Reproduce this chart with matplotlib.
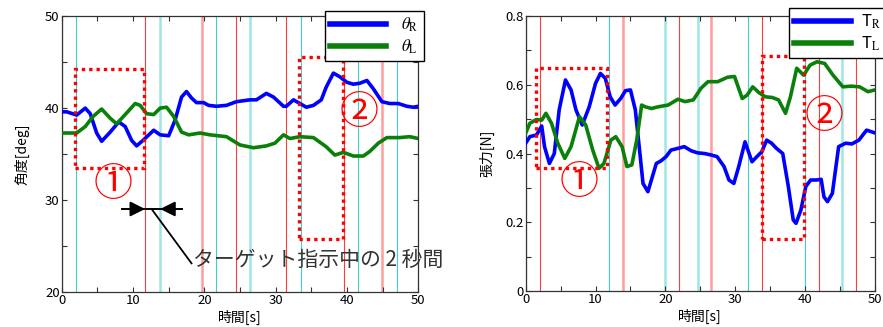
import matplotlib.pyplot as plt
from matplotlib.patches import Rectangle
from matplotlib.ticker import MultipleLocator, FuncFormatter

plt.rcParams['font.family'] = ['Noto Sans CJK JP', 'DejaVu Sans']
plt.rcParams['mathtext.fontset'] = 'stix'

# 左図: 角度 [deg]
t_theta_r = [0, 0.7, 2.1, 3.3, 4.0, 4.9, 5.6, 6.8, 8.0, 8.9, 9.8, 10.5, 11.4, 12.9, 13.8, 15.0,
             15.9, 16.8, 17.5, 18.2, 18.9, 19.9, 20.6, 21.7, 23.1, 24.5, 26.4, 27.3, 28.7, 29.7,
             31.1, 31.5, 32.5, 33.4, 34.3, 35.3, 36.4, 37.1, 38.1, 39.0, 40.0, 40.9, 41.8, 42.8,
             43.7, 44.9, 46.0, 47.2, 48.4, 49.3, 50]
theta_r = [39.6, 39.6, 39.25, 40.0, 39.4, 37.3, 36.4, 37.4, 38.5, 38.0, 36.5, 35.9, 36.5, 37.6,
           37.1, 37.0, 38.7, 41.2, 41.8, 41.1, 40.6, 40.6, 40.3, 40.2, 40.3, 40.7, 40.9, 40.9,
           41.6, 41.2, 40.2, 40.2, 40.9, 40.5, 40.1, 40.3, 40.9, 42.3, 43.8, 43.4, 42.8, 42.6,
           42.7, 43.0, 42.1, 40.7, 40.5, 40.5, 40.2, 40.1, 40.2]
t_theta_l = [0, 2.1, 3.3, 4.4, 5.6, 6.8, 7.7, 8.9, 10.3, 11.0, 11.9, 12.9, 13.8, 14.7, 15.7,
             16.8, 17.8, 19.4, 20.8, 23.1, 25.0, 26.9, 28.7, 29.9, 31.1, 32.0, 33.4, 35.3, 37.1,
             38.3, 39.5, 40.9, 42.3, 43.2, 44.4, 45.6, 47.4, 48.8, 50]
theta_l = [37.3, 37.3, 38.0, 39.1, 39.9, 38.9, 38.3, 39.3, 40.5, 40.3, 39.4, 39.3, 40.0, 40.1,
           39.1, 37.4, 37.1, 37.3, 37.1, 36.9, 36.0, 35.7, 35.9, 36.2, 37.1, 36.7, 36.9, 36.8,
           35.8, 34.9, 35.2, 34.8, 34.8, 35.3, 36.2, 36.8, 36.8, 36.9, 36.7]

# 右図: 張力 [N]
t_tension_r = [0, 0.6, 1.55, 2.3, 2.7, 3.4, 4.1, 4.8, 5.7, 6.5, 7.2, 8.1, 9.1, 10.0, 10.7, 11.4,
               12.1, 12.8, 13.6, 14.3, 15.0, 15.7, 16.4, 16.8, 17.5, 18.0, 18.7, 19.4, 20.1,
               20.8, 21.8, 22.7, 23.7, 24.6, 25.6, 26.5, 27.4, 28.4, 29.1, 29.8, 30.5, 31.4,
               32.4, 33.1, 33.8, 34.5, 35.2, 35.9, 36.8, 37.6, 38.3, 38.7, 39.4, 40.1, 40.8,
               41.6, 42.3, 42.7, 43.2, 43.9, 44.8, 45.8, 46.7, 47.7, 48.8, 50]
tension_r = [0.430, 0.449, 0.454, 0.480, 0.420, 0.371, 0.400, 0.527, 0.614, 0.585, 0.527, 0.483,
             0.536, 0.604, 0.633, 0.619, 0.565, 0.541, 0.560, 0.583, 0.585, 0.527, 0.391, 0.313,
             0.289, 0.323, 0.371, 0.379, 0.391, 0.410, 0.415, 0.420, 0.408, 0.402, 0.400, 0.396,
             0.391, 0.362, 0.323, 0.313, 0.362, 0.434, 0.376, 0.391, 0.405, 0.439, 0.430, 0.415,
             0.400, 0.304, 0.207, 0.197, 0.236, 0.304, 0.323, 0.323, 0.325, 0.274, 0.260, 0.284,
             0.420, 0.430, 0.428, 0.439, 0.468, 0.460]
t_tension_l = [0, 0.6, 1.55, 2.3, 2.9, 3.7, 4.6, 5.6, 6.5, 7.7, 8.6, 9.6, 10.5, 11.2, 12.2, 12.9,
               13.8, 14.5, 15.2, 15.9, 16.6, 17.1, 18.0, 19.0, 20.4, 21.8, 22.8, 24.0, 25.1,
               26.1, 27.5, 28.9, 29.9, 31.0, 31.7, 32.5, 33.4, 34.3, 35.3, 36.2, 37.2, 37.9,
               38.8, 39.8, 40.7, 41.7, 42.8, 44.0, 45.4, 46.6, 47.8, 49.0, 50]
tension_l = [0.459, 0.488, 0.499, 0.497, 0.517, 0.488, 0.430, 0.386, 0.420, 0.507, 0.483, 0.410,
             0.357, 0.371, 0.439, 0.449, 0.420, 0.362, 0.367, 0.439, 0.541, 0.536, 0.531, 0.536,
             0.541, 0.558, 0.551, 0.556, 0.590, 0.609, 0.609, 0.622, 0.624, 0.560, 0.570, 0.594,
             0.577, 0.565, 0.563, 0.556, 0.517, 0.565, 0.648, 0.628, 0.657, 0.667, 0.662, 0.628,
             0.594, 0.596, 0.594, 0.580, 0.585]

# 縦線（ターゲット指示の区切り）
red_left = [0, 11.7, 24.4, 31.5, 39.6]
red_left_light = [19.7, 44.9]
cyan_left = [2.0, 21.7, 33.5, 41.6, 47.0]
cyan_left_light = [13.8, 26.4]
red_right = [2.0, 21.9, 33.8, 42.0, 47.3]
red_right_light = [13.9, 26.6]
cyan_right = [0, 11.9, 31.8, 40.0]
cyan_right_light = [19.9, 24.6, 45.3]

RED = '#ff3c3c'
CYAN = '#3fcfcf'
BLUE = '#0000ff'
GREEN = '#0a800a'
SPINE = '#333333'


def vlines(ax, reds, reds_light, cyans, cyans_light):
    for v in reds:
        ax.axvline(v, color=RED, lw=0.8, zorder=1)
    for v in reds_light:
        ax.axvline(v, color=RED, lw=1.8, alpha=0.5, zorder=1)
    for v in cyans:
        ax.axvline(v, color=CYAN, lw=0.8, zorder=1)
    for v in cyans_light:
        ax.axvline(v, color=CYAN, lw=1.8, alpha=0.5, zorder=1)


def dotted_box(ax, x0, x1, y0, y1):
    r = Rectangle((x0, y0), x1 - x0, y1 - y0, fill=False, edgecolor='red',
                  lw=2.4, linestyle=(0, (1, 1.2)), zorder=4, clip_on=False)
    ax.add_patch(r)


def circled(ax, x, y, s):
    ax.text(x, y, s, color='red', fontsize=28,
            ha='center', va='center', zorder=5)


def style(ax):
    for s in ax.spines.values():
        s.set_color(SPINE)
        s.set_linewidth(0.9)
    ax.tick_params(which='both', direction='in', top=True, right=True,
                   length=3.5, width=0.8, color=SPINE, labelsize=9.5, pad=1.5)
    ax.xaxis.set_major_locator(MultipleLocator(10))
    ax.xaxis.set_minor_locator(MultipleLocator(5))
    ax.set_xlim(0, 50)
    ax.set_xlabel('時間[s]', fontsize=10, labelpad=2)


fig = plt.figure(figsize=(8.83, 3.27), dpi=100)

# ---- 左: 角度 ----
ax1 = fig.add_axes([0.0699, 0.106, 0.4038, 0.845])
vlines(ax1, red_left, red_left_light, cyan_left, cyan_left_light)
ax1.plot(t_theta_r, theta_r, color=BLUE, lw=2.6, label=r'$\theta_{\mathrm{R}}$', zorder=3)
ax1.plot(t_theta_l, theta_l, color=GREEN, lw=2.6, label=r'$\theta_{\mathrm{L}}$', zorder=3)
style(ax1)
ax1.set_ylim(20, 50)
ax1.yaxis.set_major_locator(MultipleLocator(10))
ax1.yaxis.set_minor_locator(MultipleLocator(5))
ax1.set_ylabel('角度[deg]', fontsize=10, labelpad=11)
dotted_box(ax1, 1.9, 11.6, 33.5, 44.3)
dotted_box(ax1, 33.3, 39.4, 25.8, 45.6)
circled(ax1, 7.2, 31.6, '①')
circled(ax1, 41.7, 39.5, '②')
leg1 = ax1.legend(loc='upper right', bbox_to_anchor=(1.016, 1.018), fancybox=False,
                  edgecolor='black', framealpha=1, fontsize=12, handlelength=3.4,
                  borderpad=0.3, labelspacing=0.2, handletextpad=0.9, borderaxespad=0)
leg1.get_frame().set_linewidth(1.0)
for h in leg1.get_lines():
    h.set_linewidth(4)

# 2 秒間の矢印
ya = 29.05
ax1.plot([8.4, 16.8], [ya, ya], color='black', lw=1.4, zorder=5)
ax1.annotate('', xy=(11.7, ya), xytext=(8.6, ya),
             arrowprops=dict(arrowstyle='-|>,head_length=0.9,head_width=0.45',
                             color='black', lw=1.4, shrinkA=0, shrinkB=0), zorder=5)
ax1.annotate('', xy=(13.8, ya), xytext=(16.6, ya),
             arrowprops=dict(arrowstyle='-|>,head_length=0.9,head_width=0.45',
                             color='black', lw=1.4, shrinkA=0, shrinkB=0), zorder=5)
ax1.plot([12.6, 18.2], [ya, 23.15], color='black', lw=1.3, zorder=5, clip_on=False)
ax1.text(18.4, 23.5, 'ターゲット指示中の 2 秒間', fontsize=15, color='#333333',
         ha='left', va='center', zorder=6, clip_on=False)

# ---- 右: 張力 ----
ax2 = fig.add_axes([0.5953, 0.11, 0.3956, 0.841])
vlines(ax2, red_right, red_right_light, cyan_right, cyan_right_light)
ax2.plot(t_tension_r, tension_r, color=BLUE, lw=2.6, label=r'T$_{\mathrm{R}}$', zorder=3)
ax2.plot(t_tension_l, tension_l, color=GREEN, lw=2.6, label=r'T$_{\mathrm{L}}$', zorder=3)
style(ax2)
ax2.set_ylim(0, 0.8)
ax2.yaxis.set_major_locator(MultipleLocator(0.2))
ax2.yaxis.set_minor_locator(MultipleLocator(0.1))
ax2.yaxis.set_major_formatter(FuncFormatter(lambda v, p: '0' if abs(v) < 1e-9 else f'{v:.1f}'))
ax2.set_ylabel('張力[N]', fontsize=10, labelpad=8)
dotted_box(ax2, 1.55, 11.7, 0.357, 0.650)
dotted_box(ax2, 33.8, 39.9, 0.151, 0.684)
circled(ax2, 7.6, 0.313, '①')
circled(ax2, 42.7, 0.505, '②')
leg2 = ax2.legend(loc='upper left', bbox_to_anchor=(0.754, 1.029), fancybox=False,
                  edgecolor='black', framealpha=1, fontsize=12, handlelength=3.4,
                  borderpad=0.3, labelspacing=0.2, handletextpad=0.6, borderaxespad=0)
leg2.get_frame().set_linewidth(1.0)
for h in leg2.get_lines():
    h.set_linewidth(4)

fig.savefig('out.png', dpi=100)
